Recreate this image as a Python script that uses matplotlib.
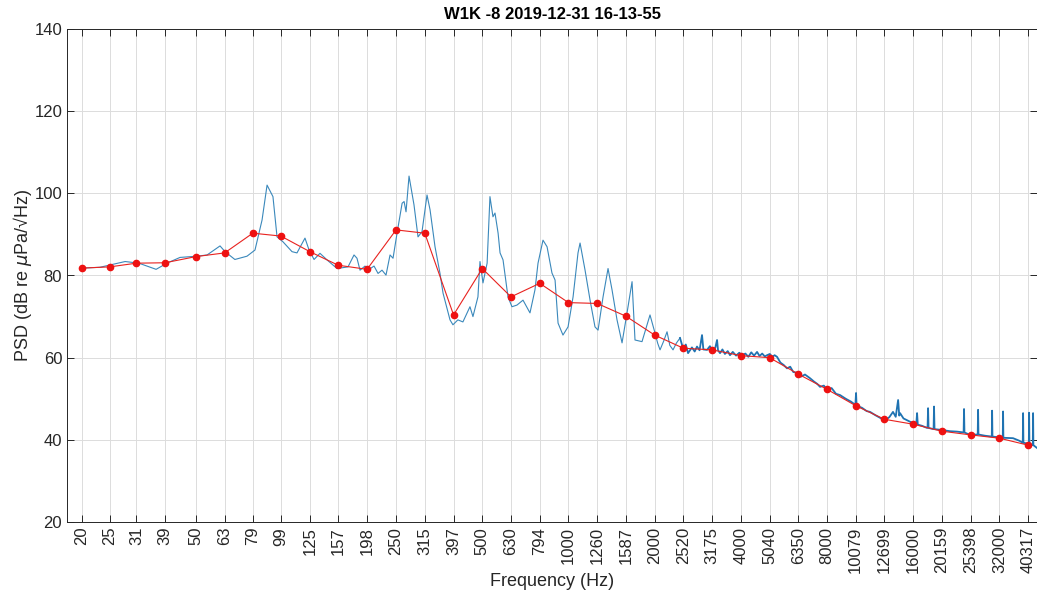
import numpy as np
import matplotlib
matplotlib.use('Agg')
import matplotlib.pyplot as plt

plt.rcParams['font.family'] = ['Liberation Sans', 'DejaVu Sans']

# third-octave band centres and band levels (red dots)
band_freq = [20, 25, 31, 39, 50, 63, 79, 99, 125, 157, 198, 250, 315, 397, 500, 630, 794,
             1000, 1260, 1587, 2000, 2520, 3175, 4000, 5040, 6350, 8000, 10079, 12699,
             16000, 20159, 25398, 32000, 40317]
band_level = [81.8, 82.1, 83.0, 83.1, 84.6, 85.5, 90.3, 89.6, 85.8, 82.5, 81.5, 91.1, 90.3,
              70.4, 81.7, 74.8, 78.1, 73.4, 73.2, 70.1, 65.5, 62.3, 61.9, 60.5, 60.0, 56.0,
              52.3, 48.3, 45.0, 43.8, 42.1, 41.2, 40.4, 38.7]

# PSD trace (Hz, dB)
psd_freq = [20, 23.1, 28.3, 31.6, 36.3, 39.6, 44.0, 50.4, 54.7, 60.7, 63.2, 68.4, 75.4, 80.4,
            85.1, 88.6, 92.9, 96.0, 100.7, 108.3, 112.7, 120.2, 124.2, 129.3, 135.6, 143.5,
            155.5, 169.9, 178.3, 182.6, 187.1, 194.8, 199.5, 209.4, 216.3, 223.3, 230.6,
            238.2, 244.0, 252.0, 262.5, 266.7, 270.9, 277.5, 288.8, 298.3, 308.1, 320.7,
            328.6, 342.0, 356.0, 364.8, 385.8, 395, 411, 428, 453, 464, 483, 491, 503, 520,
            532, 545, 554, 568, 577, 591, 615, 635, 661, 694, 734, 764, 783, 815, 842, 876,
            898, 920, 957, 997, 1038, 1080, 1098, 1143, 1190, 1238, 1269, 1321, 1375, 1420,
            1478, 1539, 1602, 1668, 1708, 1807, 1927, 2006, 2050, 2089, 2150, 2210, 2260,
            2319, 2380, 2453, 2520, 2570, 2617, 2700, 2760, 2812, 2870, 2928, 2960, 3048,
            3120, 3200, 3260, 3304, 3330, 3384, 3450, 3520, 3600, 3667, 3750, 3850, 3950,
            4040, 4150, 4250, 4350, 4450, 4558, 4650, 4750, 4850, 4940, 5050, 5150, 5250,
            5353, 5500, 5650, 5800, 5950, 6100, 6338, 6500, 6700, 6978, 7200, 7400, 7564,
            7800, 8004, 8300, 8600, 8883, 9300, 9700, 10050, 10104, 10150, 10600, 11000,
            11310, 11800, 12300, 12758, 13200, 13600, 13900, 14172, 14300, 14394, 14800,
            15200, 15604, 16100, 16400, 16506, 16600, 17200, 17886, 17960, 18032, 18100,
            18850, 18918, 18990, 20180, 21500, 22760, 24000, 24080, 24160, 25280, 26880,
            26960, 27040, 28500, 30100, 30180, 30260, 32880, 32960, 33040, 35720, 37500,
            38620, 38720, 38820, 40540, 40640, 40740, 41860, 41960, 42060, 43340]
psd_level = [81.8, 82.0, 83.4, 83.0, 81.5, 83.0, 84.4, 84.7, 85.0, 87.2, 85.8, 83.9, 84.7, 86.2,
             93.5, 102.0, 99.2, 89.4, 88.2, 85.8, 85.5, 89.1, 86.2, 83.9, 85.4, 83.8,
             81.7, 82.1, 85.0, 84.2, 81.3, 82.3, 81.3, 82.3, 80.5, 81.3, 80.1,
             85.0, 84.2, 90.3, 97.6, 98.0, 95.5, 104.2, 97.2, 89.4, 90.7, 99.6,
             96.0, 87.0, 80.5, 75.7, 69.2, 68.0, 69.2, 68.7, 72.4, 70.0, 74.8, 83.4, 78.2, 83.0,
             99.2, 94.3, 95.2, 90.3, 85.5, 83.8, 74.8, 72.4, 72.8, 74.0, 70.9, 76.5, 83.0, 88.6, 87.0, 80.6,
             78.9, 68.4, 65.5, 67.5, 74.8, 85.5, 87.9, 81.3, 74.0, 67.5, 66.7, 74.8, 81.7, 76.5,
             69.2, 63.6, 70.9, 78.5, 64.3, 63.9, 70.4, 66.0, 63.5, 61.9, 64.0, 66.3, 63.0,
             61.9, 63.5, 64.8, 62.0, 63.2, 61.1, 62.5, 61.5, 62.7, 61.8, 65.5, 62.0, 61.9,
             62.8, 61.5, 62.5, 64.3, 61.8, 61.1, 62.0, 60.9, 61.6, 60.6, 61.4, 60.5, 61.2,
             60.6, 61.0, 60.2, 61.3, 60.5, 61.4, 60.4, 61.0, 60.3, 60.6, 60.9, 60.2, 60.6,
             60.2, 58.8, 58.2, 57.4, 57.8, 56.5, 56.3, 55.4, 55.9, 55.0, 54.2, 53.6, 52.9,
             53.2, 52.1, 52.6, 51.2, 50.9, 50.0, 49.3, 48.5, 51.4, 48.3, 47.8, 47.0,
             46.8, 46.0, 45.3, 44.8, 45.5, 46.8, 45.6, 49.7, 45.9, 46.5, 45.2,
             44.8, 44.4, 44.0, 43.8, 46.5, 43.7, 43.4, 42.9, 43.0, 47.7, 42.9,
             42.6, 48.1, 42.6, 42.4, 42.1, 42.0, 41.8, 47.5, 41.8, 41.2, 41.3,
             47.3, 41.3, 41.0, 40.8, 47.1, 40.8, 40.5, 46.9, 40.5, 40.4, 39.8,
             39.3, 46.5, 39.3, 39.0, 46.6, 39.0, 38.7, 46.5, 38.7, 38.0]

fig = plt.figure(figsize=(10.37, 5.96), dpi=100)
ax = fig.add_axes([67/1037, 74/596, 970/1037, 493/596])

# low part is a thin line, the dense high-frequency part looks heavier
split = psd_freq.index(2453)
ax.plot(psd_freq[:split + 1], psd_level[:split + 1], color='#3a88bb', linewidth=0.8)
ax.plot(psd_freq[split:], psd_level[split:], color='#1f73b2', linewidth=1.3)
ax.plot(band_freq, band_level, color='#e8221f', linewidth=0.8, marker='o',
        markersize=4.5, markerfacecolor='#ee1111', markeredgecolor='#ee1111')

ax.set_xscale('log')
ax.set_xlim(17.73, 43300)
ax.set_ylim(20, 140)
ax.set_yticks(range(20, 141, 20))
ax.set_xticks(band_freq)
ax.set_xticklabels([str(f) for f in band_freq], rotation=90)
ax.xaxis.set_minor_locator(matplotlib.ticker.NullLocator())
ax.grid(True, color='#dcdcdc', linewidth=0.7)
ax.set_axisbelow(True)

ax.tick_params(direction='in', length=5, width=0.7, colors='#262626',
               labelsize=12, top=True, right=True)
for s in ax.spines.values():
    s.set_color('#262626')
    s.set_linewidth(0.7)

ax.set_title('W1K -8 2019-12-31 16-13-55', fontsize=12, fontweight='bold', pad=7)
ax.set_xlabel('Frequency (Hz)', fontsize=13, color='#262626', labelpad=0)
ax.set_ylabel('PSD (dB re $\\mu$Pa/\u221aHz)', fontsize=13, color='#262626', labelpad=0)

fig.savefig('out.png', dpi=100)
